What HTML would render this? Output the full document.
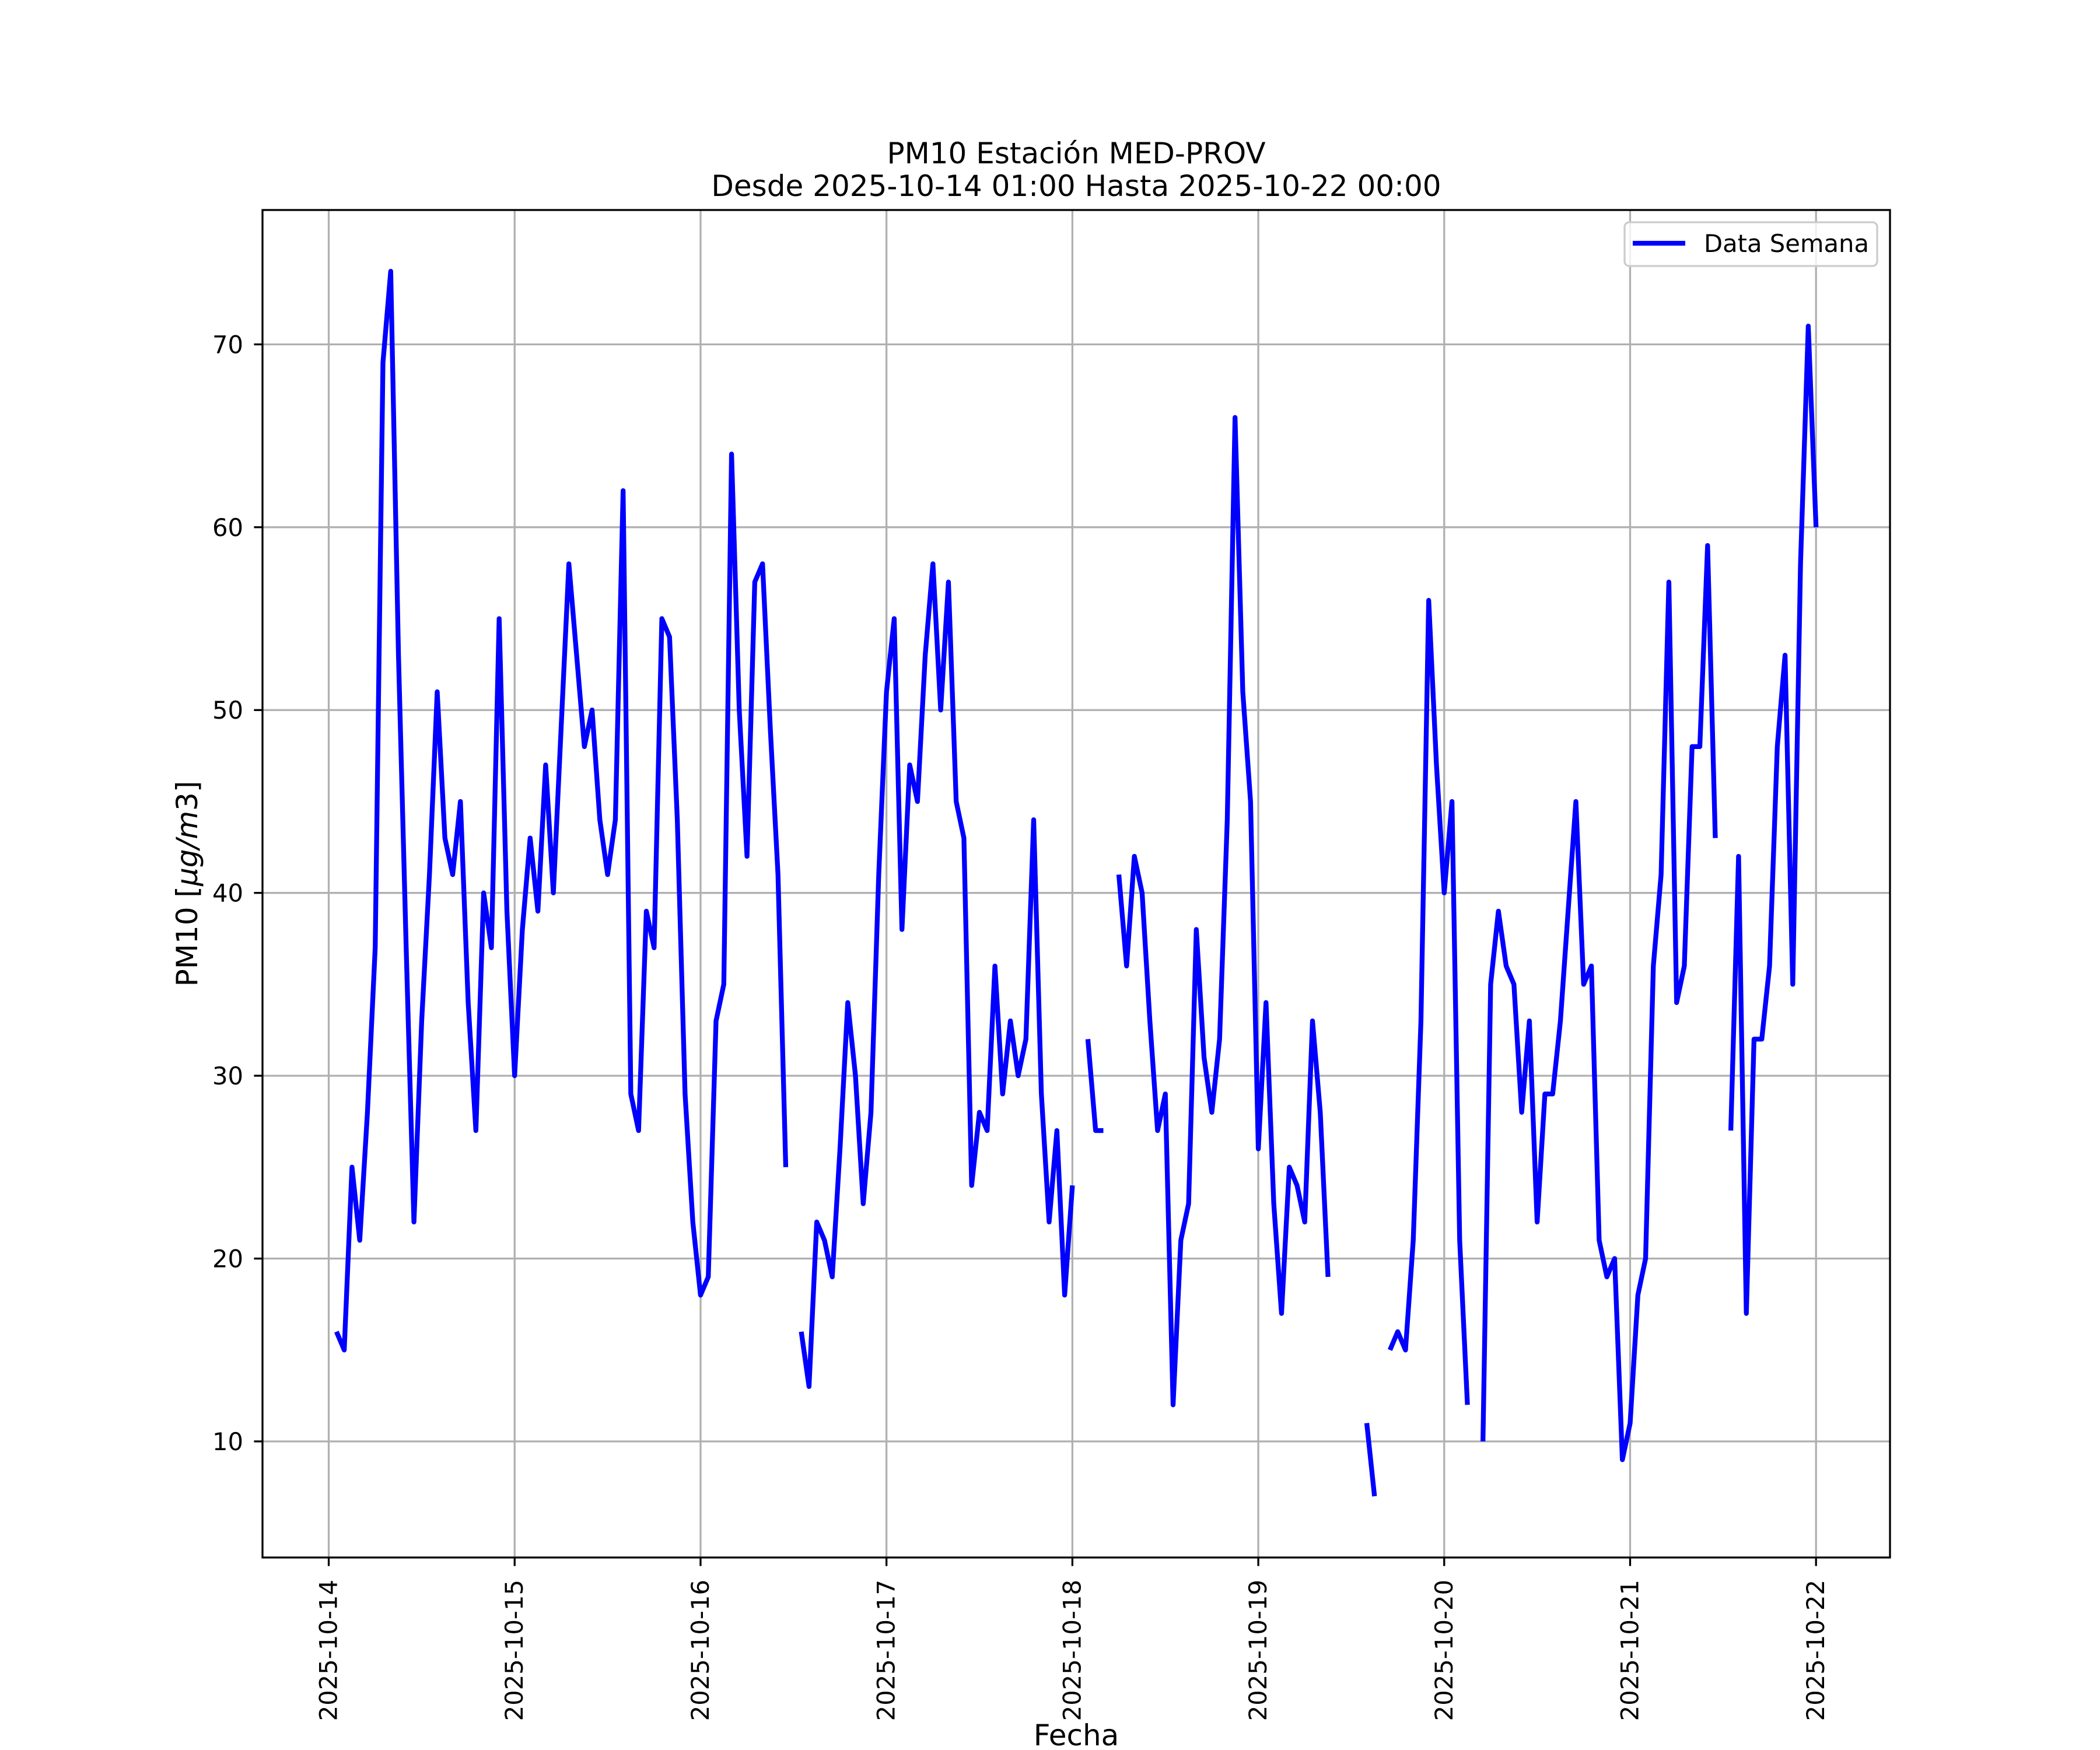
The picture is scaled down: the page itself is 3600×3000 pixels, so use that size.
<!DOCTYPE html>
<html><head><meta charset="utf-8"><style>
html,body{margin:0;padding:0;background:#fff;}
svg{display:block;font-family:"DejaVu Sans","Liberation Sans",sans-serif;}
</style></head><body>
<svg id="chart" width="3600" height="3000" viewBox="0 0 3600 3000" xmlns="http://www.w3.org/2000/svg">
<rect x="0" y="0" width="3600" height="3000" fill="#fff"/>
<text x="1845" y="280" font-size="50" text-anchor="middle">PM10 Estación MED-PROV</text>
<text x="1845" y="336" font-size="50" text-anchor="middle">Desde 2025-10-14 01:00 Hasta 2025-10-22 00:00</text>
<g id="grid"></g>
<g id="series"></g>
<rect x="450" y="360" width="2790" height="2310" fill="none" stroke="#000" stroke-width="3.3"/>
<g id="ticks"></g>
<text x="1845" y="2992" font-size="50" text-anchor="middle">Fecha</text>
<text transform="translate(338,1515) rotate(-90)" font-size="50" text-anchor="middle">PM10 [<tspan font-style="italic">μg/m</tspan>3]</text>
<g>
<rect x="2785" y="381" width="433" height="75" rx="8" fill="#fff" fill-opacity="0.8" stroke="#cccccc" stroke-width="3.3"/>
<line x1="2799" y1="417" x2="2889" y2="417" stroke="#0000ff" stroke-width="8.3"/>
<text x="2921" y="432" font-size="41.7">Data Semana</text>
</g>
</svg>
<script>
// hourly values starting 2025-10-14 01:00 (hour index 1..192); null = missing
const hours = [];
for (let i = 1; i <= 192; i++) hours.push(i);
const pm10 = [
16,15,25,21,28,37,69,74,53,37,22,33,
41,51,43,41,45,34,27,40,37,55,39,30,
38,43,39,47,40,49,58,53,48,50,44,41,
44,62,29,27,39,37,55,54,44,29,22,18,
19,33,35,64,50,42,57,58,49,41,25,null,
16,13,22,21,19,26,34,30,23,28,41,51,
55,38,47,45,53,58,50,57,45,43,24,28,
27,36,29,33,30,32,44,29,22,27,18,24,
null,32,27,27,null,41,36,42,40,33,27,29,
12,21,23,38,31,28,32,44,66,51,45,26,
34,23,17,25,24,22,33,28,19,null,null,null,
null,11,7,null,15,16,15,21,33,56,47,40,
45,21,12,null,10,35,39,36,35,28,33,22,
29,29,33,39,45,35,36,21,19,20,9,11,
18,20,36,41,57,34,36,48,48,59,43,null,
27,42,17,32,32,36,48,53,35,58,71,60
];
const xTickDays = [0,1,2,3,4,5,6,7,8];
const xTickLabels = ["2025-10-14","2025-10-15","2025-10-16","2025-10-17","2025-10-18","2025-10-19","2025-10-20","2025-10-21","2025-10-22"];
const yTicks = [10,20,30,40,50,60,70];

const NS = "http://www.w3.org/2000/svg";
const L = 450, R = 3240, T = 360, B = 2670;
const vals = pm10.filter(v => v !== null);
const vmin = Math.min(...vals), vmax = Math.max(...vals);
const ypad = (vmax - vmin) * 0.05;
const y0 = vmin - ypad, y1 = vmax + ypad;
const h0 = hours[0], h1 = hours[hours.length - 1];
const xpad = (h1 - h0) * 0.05;
const xa = h0 - xpad, xb = h1 + xpad;
function X(h) { return L + (h - xa) / (xb - xa) * (R - L); }
function Y(v) { return B - (v - y0) / (y1 - y0) * (B - T); }
function mk(tag, attrs, parent) {
  const e = document.createElementNS(NS, tag);
  for (const k in attrs) e.setAttribute(k, attrs[k]);
  parent.appendChild(e);
  return e;
}
const grid = document.getElementById("grid");
const ticks = document.getElementById("ticks");
xTickDays.forEach((d, i) => {
  const x = X(d * 24);
  const g = mk("line", {x1: x, y1: T, x2: x, y2: B, stroke: "#b0b0b0", "stroke-width": 3.3}, grid);
  
  
  const t = mk("line", {x1: x, y1: B, x2: x, y2: B + 14.6, stroke: "#000", "stroke-width": 3.3}, ticks);
  
  
  const lb = mk("text", {transform: `translate(${x + 14},2708) rotate(-90)`, "font-size": 41.7, "text-anchor": "end"}, ticks);
  lb.textContent = xTickLabels[i];
  
  
});
yTicks.forEach(v => {
  const y = Y(v);
  const g = mk("line", {x1: L, y1: y, x2: R, y2: y, stroke: "#b0b0b0", "stroke-width": 3.3}, grid);
  
  
  const t = mk("line", {x1: L - 14.6, y1: y, x2: L, y2: y, stroke: "#000", "stroke-width": 3.3}, ticks);
  
  
  const lb = mk("text", {x: 417, y: y + 15, "font-size": 41.7, "text-anchor": "end"}, ticks);
  lb.textContent = String(v);
  
  
});
const series = document.getElementById("series");
let seg = [];
function flush() {
  if (seg.length > 1) {
    const p = mk("polyline", {points: seg.join(" "), fill: "none", stroke: "#0000ff", "stroke-width": 8.3, "stroke-linejoin": "round", "stroke-linecap": "butt"}, series);
    
    
  }
  seg = [];
}
hours.forEach((h, i) => {
  const v = pm10[i];
  if (v === null) { flush(); return; }
  seg.push(X(h).toFixed(1) + "," + Y(v).toFixed(1));
});
flush();
</script>
</body></html>
